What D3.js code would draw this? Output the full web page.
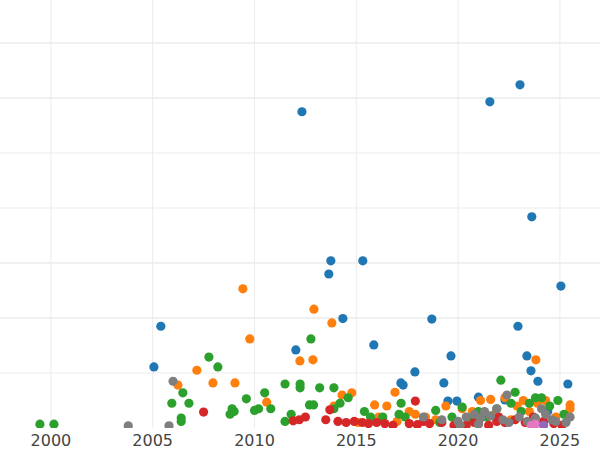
<!DOCTYPE html><html><head><meta charset="utf-8"><script src="https://cdn.jsdelivr.net/npm/d3@7"></script>
<style>body{margin:0;background:#fff}</style></head><body><svg id="c" width="600" height="450"></svg><script>
const xTicks=[2000,2005,2010,2015,2020,2025];
const yGrid=[1,2,3,4,5,6,7];
const blue=[[2012.33,5.75],[2021.56,5.93],[2023.04,6.24],[2023.62,3.84],[2013.75,3.04],[2013.65,2.8],[2015.32,3.04],[2025.05,2.58],[2005.4,1.85],[2014.34,1.99],[2018.71,1.98],[2022.94,1.85],[2005.06,1.11],[2012.03,1.42],[2015.86,1.51],[2019.65,1.31],[2023.38,1.31],[2023.58,1.04],[2017.88,1.02],[2023.92,0.85],[2025.39,0.8],[2017.19,0.82],[2017.3,0.78],[2019.3,0.82],[2019.5,0.49],[2019.94,0.49],[2021.0,0.56],[2022.3,0.51],[2024.4,0.3]];
const orange=[[2009.43,2.53],[2012.92,2.16],[2009.77,1.62],[2013.8,1.91],[2012.87,1.24],[2012.23,1.22],[2007.17,1.05],[2007.96,0.82],[2009.04,0.82],[2023.82,1.24],[2014.78,0.64],[2006.24,0.78],[2010.6,0.47],[2016.9,0.65],[2014.3,0.6],[2013.9,0.4],[2015.9,0.42],[2016.5,0.4],[2017.6,0.3],[2017.9,0.25],[2018.4,0.2],[2019.4,0.4],[2020.2,0.35],[2021.1,0.5],[2021.6,0.52],[2022.3,0.55],[2022.9,0.4],[2023.5,0.3],[2023.9,0.45],[2024.3,0.5],[2025.5,0.42],[2025.5,0.35],[2024.8,0.2],[2018.9,0.15],[2020.7,0.3],[2021.8,0.25],[2022.6,0.15],[2016.1,0.2],[2015.1,0.1],[2017.0,0.12],[2023.2,0.5]];
const green=[[1999.46,0.07],[2000.15,0.07],[2007.76,1.29],[2008.2,1.11],[2012.77,1.62],[2006.48,0.64],[2005.94,0.45],[2006.78,0.45],[2006.4,0.18],[2006.4,0.12],[2009.6,0.53],[2010.5,0.64],[2011.5,0.8],[2012.24,0.8],[2012.24,0.73],[2013.2,0.73],[2013.9,0.73],[2012.7,0.42],[2012.9,0.42],[2022.1,0.87],[2022.8,0.65],[2008.9,0.35],[2009.0,0.3],[2008.8,0.25],[2010.2,0.35],[2010.0,0.32],[2010.8,0.35],[2011.8,0.25],[2011.5,0.12],[2013.9,0.35],[2014.2,0.45],[2014.6,0.55],[2015.7,0.2],[2015.4,0.3],[2016.3,0.2],[2017.2,0.45],[2017.1,0.25],[2017.4,0.2],[2018.9,0.32],[2019.7,0.2],[2020.2,0.38],[2021.0,0.3],[2021.9,0.35],[2022.6,0.45],[2023.1,0.3],[2023.5,0.45],[2023.8,0.55],[2024.1,0.55],[2024.5,0.4],[2024.9,0.5],[2025.2,0.25],[2021.4,0.2],[2020.6,0.15],[2019.1,0.1]];
const red=[[2007.5,0.29],[2017.9,0.49],[2013.7,0.33],[2013.5,0.15],[2012.2,0.15],[2011.9,0.13],[2012.5,0.2],[2014.1,0.12],[2014.5,0.1],[2014.9,0.12],[2015.3,0.1],[2015.6,0.08],[2016.0,0.1],[2016.4,0.08],[2017.6,0.08],[2018.0,0.06],[2018.6,0.08],[2019.2,0.1],[2019.8,0.05],[2020.4,0.05],[2021.0,0.08],[2021.5,0.05],[2021.9,0.12],[2022.3,0.1],[2022.8,0.15],[2023.3,0.1],[2023.7,0.2],[2024.2,0.12],[2024.7,0.08],[2025.1,0.05],[2020.8,0.1],[2022.0,0.2],[2016.8,0.05],[2018.3,0.12]];
const gray=[[2003.8,0.04],[2005.8,0.04],[2006.0,0.85],[2018.3,0.2],[2019.2,0.15],[2020.0,0.12],[2020.4,0.2],[2020.8,0.25],[2021.1,0.18],[2021.3,0.3],[2021.6,0.22],[2021.9,0.35],[2022.2,0.15],[2022.5,0.1],[2022.4,0.6],[2023.0,0.2],[2023.4,0.12],[2023.8,0.18],[2024.1,0.35],[2024.3,0.25],[2024.6,0.15],[2024.8,0.12],[2025.3,0.1],[2025.5,0.2],[2020.1,0.05],[2021.0,0.07]];
const pink=[[2023.6,0.05],[2023.8,0.07]];
const purple=[[2024.2,0.05]];
const svg=d3.select("#c");
const x=d3.scaleLinear().domain([1997.5,2026.97]).range([0,600]);
const y=d3.scaleLinear().domain([0,7]).range([428,43]);
svg.append("g").selectAll("line").data(yGrid).join("line").attr("x1",0).attr("x2",600).attr("y1",d=>y(d)).attr("y2",d=>y(d)).attr("stroke","#ebebeb").attr("stroke-width",d=>[2,3,6,7].includes(d)?1.6:1);
svg.append("g").selectAll("line").data(xTicks).join("line").attr("x1",d=>x(d)).attr("x2",d=>x(d)).attr("y1",0).attr("y2",428).attr("stroke","#ebebeb");
svg.append("clipPath").attr("id","cp").append("rect").attr("x",0).attr("y",0).attr("width",600).attr("height",428);
const g=svg.append("g").attr("clip-path","url(#cp)");
[[blue,"#1f77b4"],[orange,"#ff7f0e"],[green,"#2ca02c"],[red,"#d62728"],[gray,"#7f7f7f"],[pink,"#e377c2"],[purple,"#9467bd"]].forEach(([d,c])=>{
g.append("g").selectAll("circle").data(d).join("circle").attr("cx",p=>x(p[0])).attr("cy",p=>y(p[1])).attr("r",4.6).attr("fill",c);});
svg.append("g").selectAll("text").data(xTicks).join("text").attr("x",d=>x(d)).attr("y",446).attr("text-anchor","middle").attr("font-family","DejaVu Sans").attr("font-size",16).attr("fill","#444").text(d=>d);
</script></body></html>
